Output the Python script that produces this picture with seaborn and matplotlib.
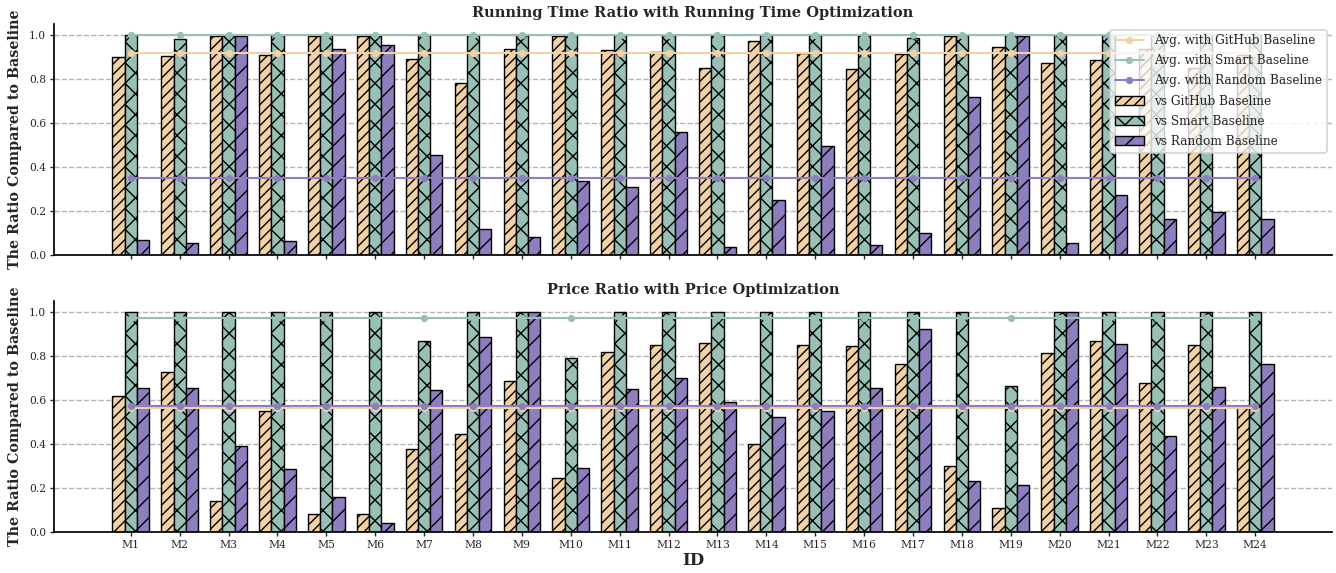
import numpy as np
import pandas as pd
import matplotlib
matplotlib.use("Agg")
import matplotlib.pyplot as plt
import seaborn as sns
from matplotlib.lines import Line2D
from matplotlib.patches import Patch

# Model identifiers and baseline names
ids = [f"M{i}" for i in range(1, 25)]
baselines = ["GitHub", "Smart", "Random"]

# Running-time ratio (running-time optimisation) against each baseline
time_github = [0.901, 0.903, 0.997, 0.911, 0.997, 0.997, 0.892, 0.782, 0.936, 0.997,
               0.933, 0.923, 0.852, 0.974, 0.920, 0.844, 0.914, 0.994, 0.944, 0.873,
               0.885, 0.935, 0.850, 0.910]
time_smart = [1.0, 0.983, 1.0, 1.0, 1.0, 1.0, 1.0, 1.0, 1.0, 1.0,
              1.0, 1.0, 1.0, 1.0, 1.0, 1.0, 0.986, 1.0, 1.0, 1.0,
              1.0, 1.0, 1.0, 1.0]
time_random = [0.070, 0.053, 0.997, 0.064, 0.936, 0.953, 0.455, 0.118, 0.082, 0.336,
               0.309, 0.561, 0.036, 0.250, 0.497, 0.045, 0.100, 0.717, 0.997, 0.053,
               0.271, 0.165, 0.194, 0.164]

# Price ratio (price optimisation) against each baseline
price_github = [0.621, 0.727, 0.142, 0.550, 0.082, 0.082, 0.376, 0.448, 0.688, 0.247,
                0.818, 0.850, 0.859, 0.403, 0.848, 0.847, 0.765, 0.302, 0.109, 0.814,
                0.868, 0.677, 0.848, 0.570]
price_smart = [1.0, 1.0, 1.0, 1.0, 1.0, 1.0, 0.867, 1.0, 1.0, 0.792,
               1.0, 1.0, 1.0, 1.0, 1.0, 1.0, 1.0, 1.0, 0.664, 1.0,
               1.0, 1.0, 1.0, 1.0]
price_random = [0.655, 0.653, 0.392, 0.286, 0.162, 0.041, 0.645, 0.886, 1.0, 0.291,
                0.650, 0.701, 0.592, 0.524, 0.550, 0.655, 0.921, 0.232, 0.217, 1.0,
                0.856, 0.439, 0.658, 0.764]

colors = {"GitHub": "#F2D1A6", "Smart": "#98C0B6", "Random": "#8E7DBF"}
hatches = {"GitHub": "////", "Smart": "xx", "Random": "//"}

sns.set_style("ticks")
plt.rcParams["font.family"] = ["DejaVu Serif"]
plt.rcParams["hatch.linewidth"] = 0.8
plt.rcParams["hatch.color"] = "black"

fig = plt.figure(figsize=(10.688, 4.584), dpi=125)
ax_top = fig.add_axes([0.0404, 0.555, 0.9566, 0.403])
ax_bot = fig.add_axes([0.0404, 0.071, 0.9566, 0.4037])


def draw_panel(ax, series, title):
    df = pd.DataFrame({
        "ID": np.tile(ids, len(baselines)),
        "Ratio": np.concatenate(series),
        "Baseline": np.repeat(baselines, len(ids)),
    })
    sns.barplot(data=df, x="ID", y="Ratio", hue="Baseline", hue_order=baselines,
                palette=colors, saturation=1, width=0.75, edgecolor="black",
                linewidth=0.8, errorbar=None, legend=False, ax=ax, zorder=2)
    for container, b in zip(ax.containers, baselines):
        for bar in container:
            bar.set_hatch(hatches[b])

    # Mean ratio of each baseline, drawn across all models
    x = np.arange(len(ids))
    for vals, b in zip(series, baselines):
        avg = float(np.mean(vals))
        ax.plot(x, np.full(len(ids), avg), color=colors[b], marker="o",
                markersize=3.2, linewidth=1.2, zorder=3)

    ax.set_xlim(-1.57, len(ids) - 1 + 1.57)
    ax.set_ylim(0, 1.05)
    ticks = [0.0, 0.2, 0.4, 0.6, 0.8, 1.0]
    ax.set_yticks(ticks)
    ax.set_yticklabels([f"{t:.1f}" for t in ticks])
    ax.yaxis.grid(True, linestyle="--", color="#b5b5b5", linewidth=0.8)
    ax.set_axisbelow(True)
    ax.set_title(title, fontsize=8.4, fontweight="bold", pad=4)
    ax.set_ylabel("The Ratio Compared to Baseline", fontsize=8.2,
                  fontweight="bold", labelpad=4)
    ax.tick_params(axis="both", labelsize=6.2, length=2.5, width=0.8, pad=2)
    for s in ("left", "bottom"):
        ax.spines[s].set_linewidth(1.0)
        ax.spines[s].set_color("black")
    sns.despine(ax=ax)


draw_panel(ax_top, [time_github, time_smart, time_random],
           "Running Time Ratio with Running Time Optimization")
draw_panel(ax_bot, [price_github, price_smart, price_random],
           "Price Ratio with Price Optimization")

ax_top.set_xlabel("")
ax_top.tick_params(axis="x", labelbottom=False)
ax_bot.set_xlabel("ID", fontsize=9.5, fontweight="bold", labelpad=1)

handles = [Line2D([0], [0], color=colors[b], marker="o", markersize=3.2, linewidth=1.2)
           for b in baselines]
handles += [Patch(facecolor=colors[b], edgecolor="black", hatch=hatches[b], linewidth=0.8)
            for b in baselines]
labels = [f"Avg. with {b} Baseline" for b in baselines] + [f"vs {b} Baseline" for b in baselines]
ax_top.legend(handles, labels, loc="upper right", fontsize=7, framealpha=0.8,
              borderaxespad=0.45, handlelength=2.4, labelspacing=0.58)

fig.savefig("out.png", dpi=125)
